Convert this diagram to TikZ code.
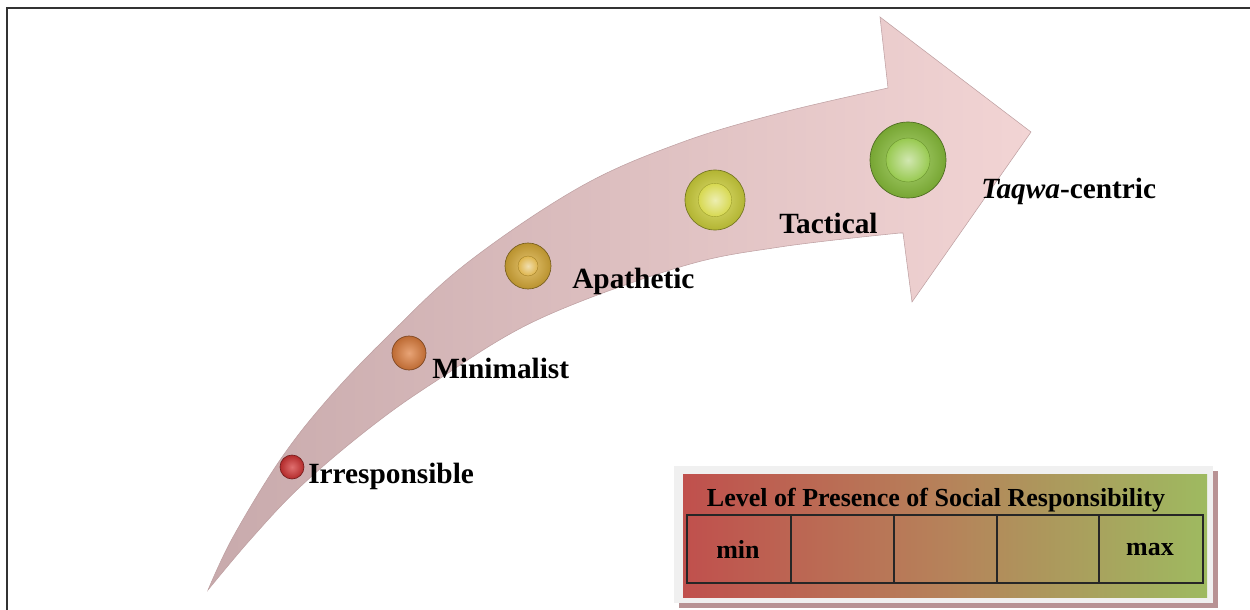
\documentclass[tikz,border=0pt]{standalone}
\usepackage{fontspec}
\setmainfont{Liberation Serif}
\usetikzlibrary{shadings}
\definecolor{bandtail}{RGB}{200,170,172}
\definecolor{bandhead}{RGB}{242,212,212}
\definecolor{bandedge}{RGB}{190,160,162}
\definecolor{ballred}{RGB}{210,50,50}
\definecolor{ballorange}{RGB}{222,125,60}
\definecolor{ballgold}{RGB}{218,172,55}
\definecolor{ballyellow}{RGB}{210,212,60}
\definecolor{ballgreen}{RGB}{140,195,60}
\definecolor{legred}{RGB}{192,80,77}
\definecolor{legmid}{RGB}{182,130,90}
\definecolor{leggreen}{RGB}{158,186,96}
\definecolor{legframe}{RGB}{240,240,240}
\definecolor{legshadow}{RGB}{184,146,148}
\definecolor{framegray}{RGB}{50,50,50}
\begin{document}
\begin{tikzpicture}[x=0.75pt,y=-0.75pt,
  lbl/.style={font=\fontsize{22}{26}\selectfont\bfseries, inner sep=0pt, anchor=west},
  leglbl/.style={font=\fontsize{19.5}{23}\selectfont\bfseries, inner sep=0pt},
  ballnode/.style={circle, inner sep=0pt, draw=#1!55!black, line width=0.5pt,
    inner color=#1!70!white, outer color=#1!85!black},
  dimple/.style={circle, inner sep=0pt, draw=#1!75!black, line width=0.3pt,
    inner color=#1!40!white, outer color=#1!90!white}]
\useasboundingbox (0,0) rectangle (1250,610);
% frame
\draw[framegray, line width=2.2pt] (1250,8) -- (7,8) -- (7,610);
% curved arrow
\shade[left color=bandtail, right color=bandhead, draw=bandedge, line width=0.4pt]
  plot[smooth, tension=0.6] coordinates {(208,590) (233,537) (280,460) (327,400) (387,337) (467,263) (580,187) (680,143) (780,113) (888,88)}
  -- (880,17) -- (1031,132) -- (912,302) -- (903,233)
  -- plot[smooth, tension=0.6] coordinates {(900,233) (780,247) (680,267) (537,320) (433,383) (367,430) (300,487) (250,540) (208,590)}
  -- cycle;
% balls
\node[ballnode=ballred, minimum size=18pt] (b1) at (292,467) {};
\node[ballnode=ballorange, minimum size=25.5pt] (b2) at (409,353) {};
\node[ballnode=ballgold, minimum size=34.5pt] (b3) at (528,266) {};
\node[ballnode=ballyellow, minimum size=45pt] (b4) at (715,200) {};
\node[ballnode=ballgreen, minimum size=57pt] (b5) at (908,160) {};
\node[dimple=ballgold, minimum size=15pt] (d3) at (b3) {};
\node[dimple=ballyellow, minimum size=25pt] (d4) at (b4) {};
\node[dimple=ballgreen, minimum size=33pt] (d5) at (b5) {};
% labels
\node[lbl] (l1) at (308,476) {Irresponsible};
\node[lbl] (l2) at (432,368) {Minimalist};
\node[lbl] (l3) at (572,281) {Apathetic};
\node[lbl] (l4) at (779,223) {Tactical};
\node[lbl] (l5) at (981,191) {\textit{Taqwa}-centric};
% legend
\fill[legshadow] (679,471) rectangle (1218,608);
\fill[legframe] (674,466) rectangle (1213,603);
\shade[left color=legred, right color=leggreen, middle color=legmid] (683,474) rectangle (1207,597);
\draw[black!85, line width=1pt] (687,515) rectangle (1203,583);
\foreach \xx in {791,894,997,1099} \draw[black!85, line width=1pt] (\xx,515) -- (\xx,583);
\node[leglbl] (lt) at (936,500) {Level of Presence of Social Responsibility};
\node[leglbl] (lmin) at (738,549) {min};
\node[leglbl] (lmax) at (1150,549) {max};
\end{tikzpicture}
\end{document}
